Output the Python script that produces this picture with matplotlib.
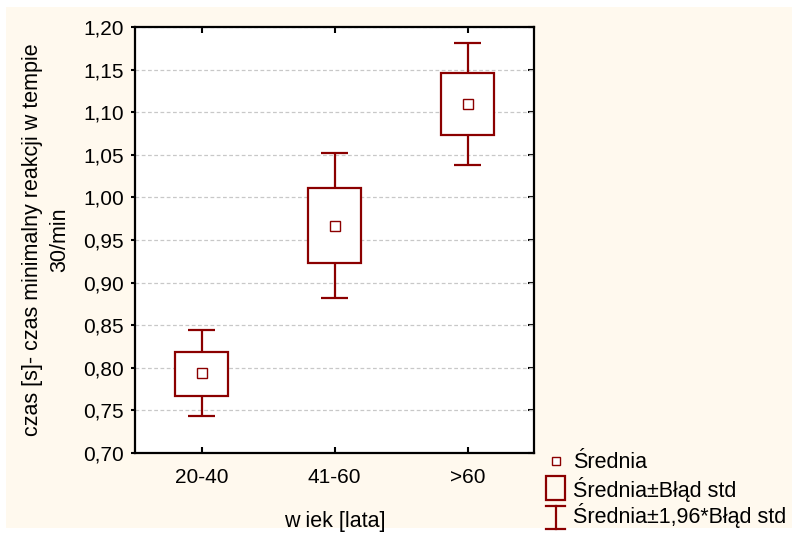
import matplotlib
matplotlib.use("Agg")
import matplotlib.pyplot as plt
from matplotlib.patches import Rectangle
from matplotlib.lines import Line2D
from matplotlib.ticker import FuncFormatter, MultipleLocator

# ---- data ----
categories = ["20-40", "41-60", ">60"]
means = [0.794, 0.967, 1.110]
se_low = [0.767, 0.923, 1.073]       # mean - std error
se_high = [0.819, 1.011, 1.146]      # mean + std error
ci_low = [0.743, 0.882, 1.038]       # mean - 1.96*std error
ci_high = [0.844, 1.052, 1.181]      # mean + 1.96*std error
legend_labels = ["Średnia", "Średnia±Błąd std", "Średnia±1,96*Błąd std"]

# ---- style ----
W, H = 792, 536
DARK = "#8B0000"
CREAM = "#FFF9EE"
plt.rcParams["font.family"] = ["Liberation Sans", "DejaVu Sans"]
FS_TICK = 15
FS = 15.5

def fx(x):
    return x / W

def fy(y):
    return 1 - y / H

fig = plt.figure(figsize=(W / 100, H / 100), dpi=100, facecolor="white")
fig.patches.append(Rectangle((fx(6), fy(528)), fx(792) - fx(6), fy(7) - fy(528),
                             transform=fig.transFigure, facecolor=CREAM,
                             edgecolor="none", zorder=-10))

ax = fig.add_axes([fx(135), fy(453), fx(534) - fx(135), fy(27) - fy(453)])
ax.set_facecolor("white")

x = list(range(len(categories)))
lw = 1.6

# whiskers (behind boxes)
ax.vlines(x, ci_low, ci_high, color=DARK, lw=lw, zorder=2)
cap = 0.1
ax.hlines(ci_low, [i - cap for i in x], [i + cap for i in x], color=DARK, lw=lw, zorder=2)
ax.hlines(ci_high, [i - cap for i in x], [i + cap for i in x], color=DARK, lw=lw, zorder=2)
# boxes
heights = [h - l for h, l in zip(se_high, se_low)]
ax.bar(x, heights, bottom=se_low, width=0.4, facecolor="white", edgecolor=DARK,
       linewidth=lw, zorder=3)
# means
ax.plot(x, means, ls="none", marker="s", ms=6.5, mfc="white", mec=DARK, mew=1.0, zorder=4)

ax.set_xlim(-0.5, 2.5)
ax.set_ylim(0.70, 1.20)
ax.yaxis.set_major_locator(MultipleLocator(0.05))
ax.yaxis.set_major_formatter(FuncFormatter(lambda v, p: f"{v:.2f}".replace(".", ",")))
ax.set_xticks(x)
ax.set_xticklabels(categories)

ax.grid(axis="y", color="#C8C8C8", ls=(0, (3, 2)), lw=0.9, zorder=0)
ax.set_axisbelow(True)

for s in ax.spines.values():
    s.set_linewidth(1.6)
    s.set_color("black")

ax.tick_params(axis="y", which="major", direction="out", length=3, width=1.5,
               labelsize=FS_TICK, pad=5, left=True, right=False)
ax.tick_params(axis="x", which="major", direction="in", length=4, width=1.5,
               labelsize=FS_TICK, pad=11, top=True, bottom=True)
sec = ax.secondary_yaxis("right")
sec.yaxis.set_major_locator(MultipleLocator(0.05))
sec.tick_params(direction="in", length=4, width=1.5, labelright=False)
sec.spines["right"].set_visible(False)

ax.set_ylabel("czas [s]- czas minimalny reakcji w tempie\n30/min", fontsize=FS,
              linespacing=1.4)
ax.yaxis.set_label_coords((70 - 135) / 399, 0.5)
ax.set_xlabel("w iek [lata]", fontsize=FS, labelpad=17)

# ---- legend (drawn manually in figure pixel coordinates) ----
tx = fx(573)
rows = [462, 489, 516]
# mean marker icon
fig.add_artist(Rectangle((fx(552), fy(465)), fx(8), 8 / H, transform=fig.transFigure,
                         facecolor="white", edgecolor=DARK, lw=1.0))
# box icon
fig.add_artist(Rectangle((fx(546), fy(500)), fx(19), 24 / H, transform=fig.transFigure,
                         facecolor="none", edgecolor=DARK, lw=lw))
# whisker icon
fig.add_artist(Line2D([fx(555.5), fx(555.5)], [fy(506), fy(529)], transform=fig.transFigure,
                      color=DARK, lw=lw))
fig.add_artist(Line2D([fx(546), fx(565)], [fy(506), fy(506)], transform=fig.transFigure,
                      color=DARK, lw=lw))
fig.add_artist(Line2D([fx(546), fx(565)], [fy(529), fy(529)], transform=fig.transFigure,
                      color=DARK, lw=lw))
for r, lab in zip(rows, legend_labels):
    fig.text(tx, fy(r), lab, fontsize=FS, va="center", ha="left")

fig.savefig("out.png", dpi=100, facecolor=fig.get_facecolor())
